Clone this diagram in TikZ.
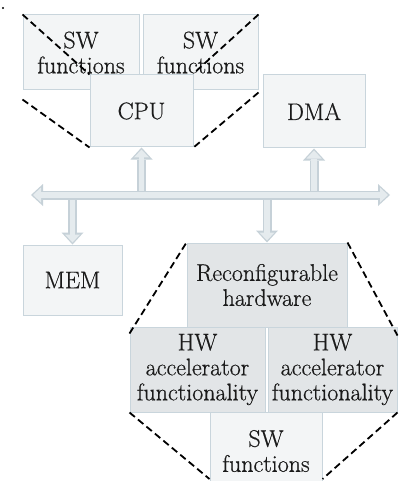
\documentclass[tikz,border=0pt]{standalone}
\usepackage{fontspec}
\setmainfont{Latin Modern Roman}[FakeBold=0.6]
\usetikzlibrary{arrows.meta}
\definecolor{boxfill}{HTML}{F3F5F6}
\definecolor{boxline}{HTML}{C9D5DC}
\definecolor{darkfill}{HTML}{E2E5E7}
\definecolor{arrline}{HTML}{C6D1D8}
\definecolor{arrfill}{HTML}{E5EBEE}
\definecolor{txt}{HTML}{1A1A1A}
\tikzset{
  lightbox/.style={draw=boxline, fill=boxfill, line width=1pt, align=center, text=txt,
    font=\fontsize{24}{25}\selectfont, inner sep=0pt},
  darkbox/.style={lightbox, fill=darkfill},
  arrouter/.style={draw=arrline, line width=9pt},
  arrinner/.style={draw=arrfill, line width=5.5pt},
  zoomline/.style={draw=black, line width=1.8pt, dash pattern=on 7pt off 4pt},
  otip/.tip={Triangle[width=22pt,length=12pt,line width=0pt,color=arrline]},
  itip/.tip={Triangle[width=15pt,length=8pt,line width=0pt,color=arrfill]}
}
\newcommand\fatarrow[2]{%
  \draw[arrouter, -otip] #1 -- #2;
  \draw[arrinner, -itip, shorten >=2pt] #1 -- #2;}
\begin{document}
\begin{tikzpicture}[x=1pt,y=-1pt]
\useasboundingbox (0,0) rectangle (401,481);
\fill[white] (0,0) rectangle (401,481);
\fill[black] (3,8) circle (1.2);
% upper part
\node[lightbox, minimum width=116pt, minimum height=75pt] (sw1) at (81,52.5) {SW\\functions};
\node[lightbox, minimum width=115pt, minimum height=75pt] (sw2) at (200.5,52.5) {SW\\functions};
\node[lightbox, minimum width=103pt, minimum height=72pt] (cpu) at (141.5,111) {CPU};
\node[lightbox, minimum width=102pt, minimum height=73pt] (dma) at (314,111.5) {DMA};
% lower part
\node[lightbox, minimum width=99pt, minimum height=70pt] (mem) at (72.5,280) {MEM};
\node[lightbox, minimum width=112pt, minimum height=78pt] (swb) at (266,451) {SW\\functions};
\node[darkbox, minimum width=135pt, minimum height=85pt] (hw1) at (197.5,369.5) {HW\\accelerator\\functionality};
\node[darkbox, minimum width=129pt, minimum height=85pt] (hw2) at (332.5,369.5) {HW\\accelerator\\functionality};
\node[darkbox, minimum width=160pt, minimum height=84pt] (rh) at (267,285) {Reconfigurable\\hardware};
% bus
\coordinate (busL) at (31,195);
\coordinate (busR) at (390,195);
\fatarrow{(cpu.south |- busL)}{(cpu.south)}
\fatarrow{(dma.south |- busL)}{(dma.south)}
\fatarrow{(mem.north |- busL)}{(mem.north)}
\fatarrow{(rh.north |- busL)}{(rh.north)}
\draw[arrouter, otip-otip] (busL) -- (busR);
\draw[arrinner, itip-itip, shorten >=2pt, shorten <=2pt] (busL) -- (busR);
% zoom lines top
\draw[zoomline] (sw1.north west) -- (cpu.north west);
\draw[zoomline] ([yshift=-9pt]sw1.south west) -- (cpu.south west);
\draw[zoomline] (sw2.north east) -- ([yshift=1pt]cpu.north east);
\draw[zoomline] ([yshift=-2pt]sw2.south east) -- (cpu.south east);
% zoom lines bottom
\coordinate (swbl) at (swb.west |- 0,479);
\coordinate (swbr) at (swb.east |- 0,479);
\draw[zoomline] ([yshift=-7pt]hw1.north west) -- (rh.north west);
\draw[zoomline] (rh.north east) -- ([yshift=-9pt]hw2.north east);
\draw[zoomline] (hw1.south west) -- (swbl);
\draw[zoomline] (hw2.south east) -- (swbr);
\end{tikzpicture}
\end{document}
